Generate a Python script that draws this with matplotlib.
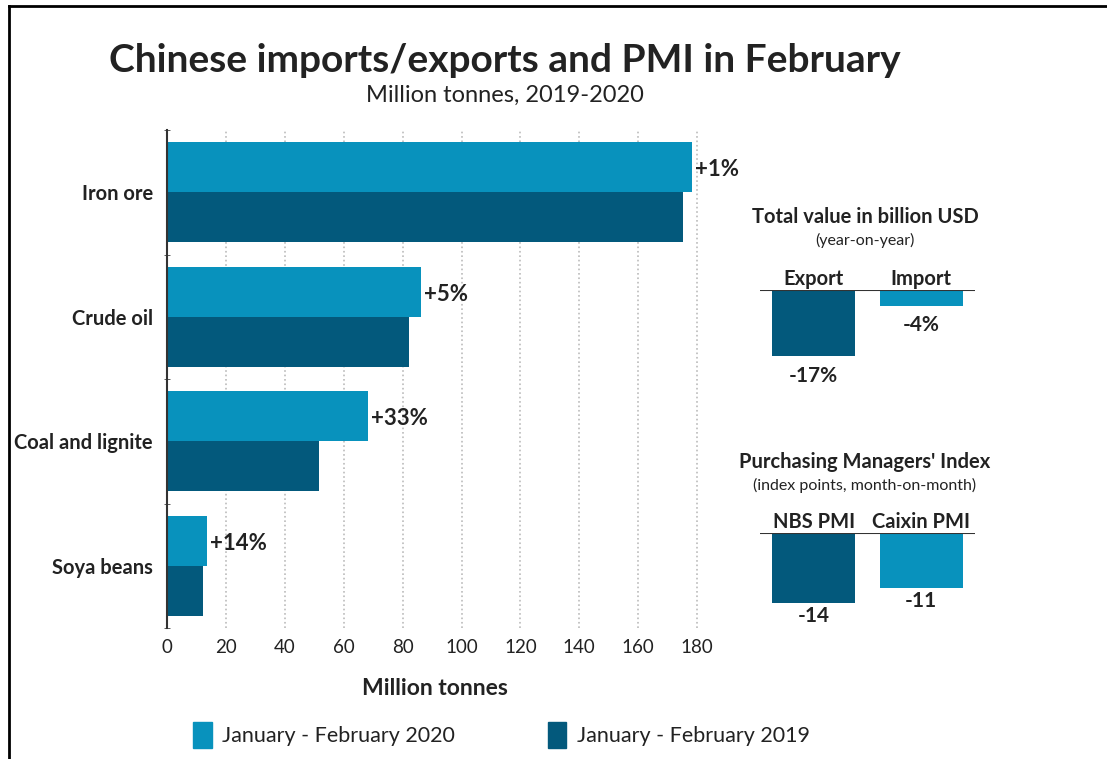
import matplotlib
matplotlib.use("Agg")
import matplotlib.pyplot as plt
from matplotlib.lines import Line2D
from matplotlib.patches import Patch

plt.rcParams['font.family'] = ['Lato', 'DejaVu Sans']

# ---- data ----
commodities = ['Iron ore', 'Crude oil', 'Coal and lignite', 'Soya beans']
tonnes_2020 = [178.3, 86.3, 68.3, 13.6]
tonnes_2019 = [175.3, 82.2, 51.6, 12.2]
change_labels = ['+1%', '+5%', '+33%', '+14%']

trade_names = ['Export', 'Import']
trade_change = [-17, -4]

pmi_names = ['NBS PMI', 'Caixin PMI']
pmi_change = [-14, -11]

light = '#0892bd'
dark = '#03597c'
txt = '#222222'

fig = plt.figure(figsize=(11.07, 7.59), dpi=100)
W, H = 1107, 759


def box(x0, y0, x1, y1):
    return [x0 / W, 1 - y1 / H, (x1 - x0) / W, (y1 - y0) / H]


# outer frame (left and top only)
fig.add_artist(Line2D([9 / W, 9 / W], [0, 1 - 6 / H], color='black', lw=2, transform=fig.transFigure))
fig.add_artist(Line2D([9 / W, 1], [1 - 6 / H, 1 - 6 / H], color='black', lw=2, transform=fig.transFigure))

fig.text(505 / W, 1 - 60 / H, 'Chinese imports/exports and PMI in February',
         ha='center', va='center', fontsize=28, fontweight='bold', color=txt)
fig.text(505 / W, 1 - 95 / H, 'Million tonnes, 2019-2020',
         ha='center', va='center', fontsize=17, color=txt)

# ---- main horizontal bars ----
ax = fig.add_axes(box(167, 130, 703, 628))
ypos = list(range(len(commodities)))
bh = 0.4
ax.barh([y - bh / 2 for y in ypos], tonnes_2020, height=bh, color=light)
ax.barh([y + bh / 2 for y in ypos], tonnes_2019, height=bh, color=dark)
for y, v, lab in zip(ypos, tonnes_2020, change_labels):
    ax.text(v + 1, y - bh / 2 + 0.02, lab, ha='left', va='center', fontsize=16,
            fontweight='bold', color=txt)

ax.set_xlim(0, 182)
ax.set_ylim(3.5, -0.5)
ax.set_xticks(range(0, 181, 20))
ax.set_yticks(ypos)
ax.set_yticklabels(commodities, fontsize=14.5, fontweight='bold', color=txt)
ax.set_yticks([-0.5, 0.5, 1.5, 2.5, 3.5], minor=True)
ax.tick_params(axis='y', which='major', length=0, pad=10)
ax.tick_params(axis='y', which='minor', length=4, direction='inout', color='#444444')
ax.tick_params(axis='x', length=0, labelsize=13.5, labelcolor=txt, pad=8)
ax.grid(axis='x', linestyle=':', color='#bbbbbb', lw=1.2)
ax.set_axisbelow(True)
for s in ['top', 'right', 'bottom']:
    ax.spines[s].set_visible(False)
ax.spines['left'].set_color('#333333')
ax.spines['left'].set_linewidth(1.5)
ax.set_xlabel('Million tonnes', fontsize=16.5, fontweight='bold', color=txt, labelpad=16)


# ---- small panels on the right ----
def small_panel(rect, names, values, lo, fmt, drop):
    sax = fig.add_axes(rect)
    sax.bar([0, 1], values, width=0.77, color=[dark, light])
    sax.set_xlim(-0.5, 1.5)
    sax.set_ylim(lo, 0)
    sax.axhline(0, color='#333333', lw=1.5)
    sax.axis('off')
    for i, (n, v) in enumerate(zip(names, values)):
        sax.annotate(n, (i, 0), xytext=(0, 1), textcoords='offset points',
                     ha='center', va='bottom', fontsize=14.5, fontweight='bold', color=txt)
        sax.annotate(fmt.format(v), (i, v), xytext=(0, -drop), textcoords='offset points',
                     ha='center', va='top', fontsize=15, fontweight='bold', color=txt)
    return sax


small_panel(box(760, 290, 975, 368), trade_names, trade_change, -20, '{}%', 7)
fig.text(865 / W, 1 - 217 / H, 'Total value in billion USD', ha='center', va='center',
         fontsize=14.5, fontweight='bold', color=txt)
fig.text(865 / W, 1 - 240 / H, '(year-on-year)', ha='center', va='center',
         fontsize=11.5, color=txt)

small_panel(box(760, 533, 975, 613), pmi_names, pmi_change, -16, '{}', 2)
fig.text(865 / W, 1 - 462 / H, "Purchasing Managers' Index", ha='center', va='center',
         fontsize=14.5, fontweight='bold', color=txt)
fig.text(865 / W, 1 - 485 / H, '(index points, month-on-month)', ha='center', va='center',
         fontsize=11.5, color=txt)

# ---- legend ----
handles = [Patch(color=light, label='January - February 2020'),
           Patch(color=dark, label='January - February 2019')]
fig.legend(handles=handles, loc='center left', bbox_to_anchor=(174 / W, 1 - 735 / H),
           ncol=2, frameon=False, fontsize=15.5, handlelength=0.85, handleheight=1.5,
           handletextpad=0.5, columnspacing=4.3, labelcolor=txt)

fig.savefig('out.png', dpi=100, facecolor='white')
